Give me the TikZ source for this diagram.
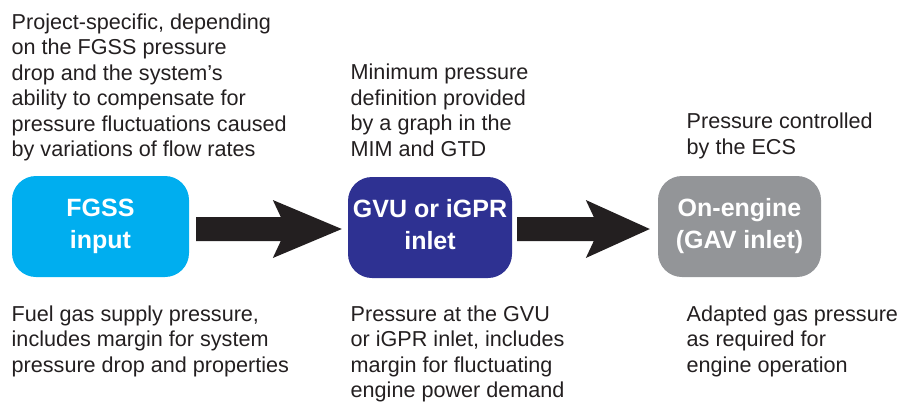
\documentclass[tikz,border=0pt]{standalone}
\usepackage{fontspec}
\setmainfont{Liberation Sans}
\usetikzlibrary{calc}
\definecolor{txt}{HTML}{231F20}
\definecolor{cyanbox}{HTML}{00AEEF}
\definecolor{bluebox}{HTML}{2E3192}
\definecolor{graybox}{HTML}{939598}
% #1 start, #2 tip, #3 head length
\newcommand\stagearrow[3]{%
  \fill[arrowfill] ($(#1)+(0,-12)$) -- ($(#2)+(-#3+8,-12)$) -- ($(#2)+(-#3,-29)$) -- (#2)
    -- ($(#2)+(-#3,29)$) -- ($(#2)+(-#3+8,12)$) -- ($(#1)+(0,12)$) -- cycle;}
\begin{document}
\begin{tikzpicture}[x=1pt,y=-1pt,
  desc/.style={anchor=north west, inner sep=0pt, align=left, text=txt,
    font=\fontsize{21.6}{25.5}\selectfont},
  stage/.style={rounded corners=24pt, minimum height=101pt,
    inner sep=0pt, align=center, text=white,
    font=\bfseries\fontsize{25}{32}\selectfont},
  arrowfill/.style={fill=txt}]
\useasboundingbox (0,0) rectangle (909,405);

\node[stage, fill=cyanbox, minimum width=177pt] (b1) at (100.5,226.5) {\strut FGSS\\input\strut};
\node[stage, fill=bluebox, minimum width=164pt] (b2) at (430,227.5) {\strut GVU or iGPR\\inlet\strut};
\node[stage, fill=graybox, minimum width=163pt] (b3) at (739.5,226.5) {\strut On-engine\\(GAV inlet)\strut};

\coordinate (a1s) at ($(b1.east)+(7,2.5)$);
\coordinate (a1e) at ($(b2.west)+(-6,1.5)$);
\coordinate (a2s) at ($(b2.east)+(5,1.5)$);
\coordinate (a2e) at ($(b3.west)+(-8,2.5)$);
\stagearrow{a1s}{a1e}{69}
\stagearrow{a2s}{a2e}{64}

\node[desc] (t1) at (11.5,11) {\strut Project-specific, depending\\on the FGSS pressure\\drop and the system’s\\ability to compensate for\\pressure fluctuations caused\\by variations of flow rates};
\node[desc] (t2) at (350.5,61.5) {\strut Minimum pressure\\definition provided\\by a graph in the\\MIM and GTD};
\node[desc] (t3) at (686.5,110.5) {\strut Pressure controlled\\by the ECS};

\node[desc] (d1) at (11.5,303) {\strut Fuel gas supply pressure,\\includes margin for system\\pressure drop and properties};
\node[desc] (d2) at (350.5,303) {\strut Pressure at the GVU\\or iGPR inlet, includes\\margin for fluctuating\\engine power demand};
\node[desc] (d3) at (686.5,303) {\strut Adapted gas pressure\\as required for\\engine operation};
\end{tikzpicture}
\end{document}
